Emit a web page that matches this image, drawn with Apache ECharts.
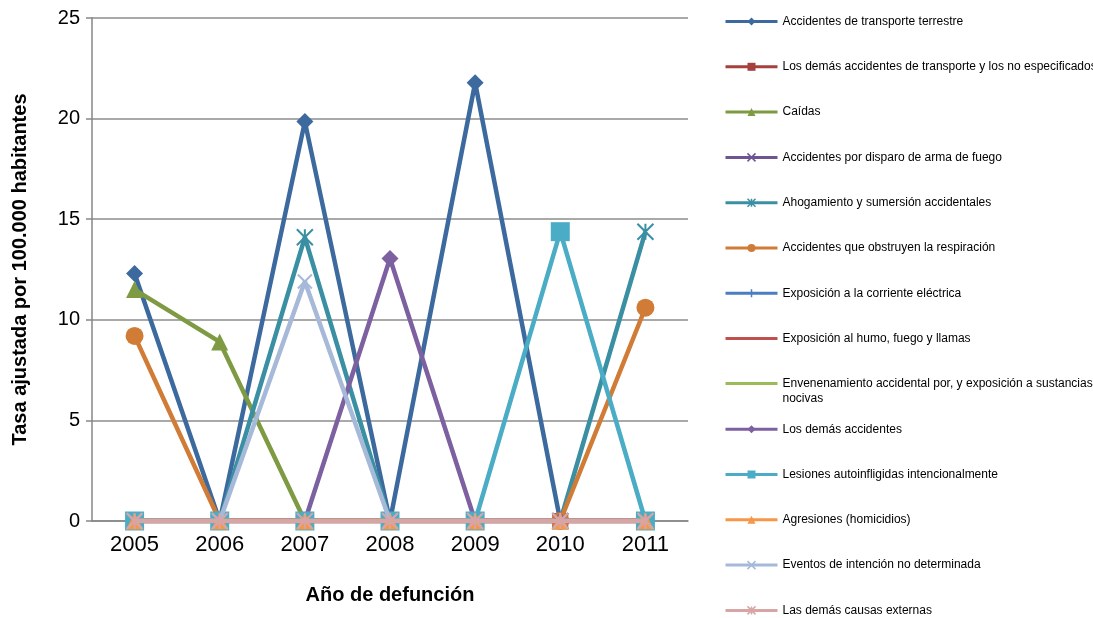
<!DOCTYPE html>
<html>
<head>
<meta charset="utf-8">
<script src="https://cdn.jsdelivr.net/npm/echarts@6/dist/echarts.min.js"></script>
<style>
  html, body { margin: 0; padding: 0; background: #fff; }
  #chart { width: 1093px; height: 618px; }
</style>
</head>
<body>
<div id="chart"></div>
<script>
// Años de defunción (eje de categorías)
const years = ['2005', '2006', '2007', '2008', '2009', '2010', '2011'];

// Tasa ajustada por 100.000 habitantes, por causa externa
const transporteTerrestre   = [12.3, 0, 19.85, 0, 21.78, 0, 0];
const demasTransporte       = [0, 0, 0, 0, 0, 0, 0];
const caidas                = [11.5, 8.9, 0, 0, 0, 0, 0];
const disparoArma           = [0, 0, 0, 0, 0, 0, 0];
const ahogamiento           = [0, 0, 14.1, 0, 0, 0, 14.38];
const obstruyenRespiracion  = [9.2, 0, 0, 0, 0, 0, 10.6];
const corrienteElectrica    = [0, 0, 0, 0, 0, 0, 0];
const humoFuego             = [0, 0, 0, 0, 0, 0, 0];
const envenenamiento        = [0, 0, 0, 0, 0, 0, 0];
const demasAccidentes       = [0, 0, 0, 13.05, 0, 0, 0];
const autoinfligidas        = [0, 0, 0, 0, 0, 14.38, 0];
const agresiones            = [0, 0, 0, 0, 0, 0, 0];
const intencionNoDet        = [0, 0, 11.9, 0, 0, 0, 0];
const demasCausas           = [0, 0, 0, 0, 0, 0, 0];

const seriesNames = [
  'Accidentes de transporte terrestre',
  'Los demás accidentes de transporte y los no especificados',
  'Caídas',
  'Accidentes por disparo de arma de fuego',
  'Ahogamiento y sumersión accidentales',
  'Accidentes que obstruyen la respiración',
  'Exposición a la corriente eléctrica',
  'Exposición al humo, fuego y llamas',
  'Envenenamiento accidental por, y exposición a sustancias nocivas',
  'Los demás accidentes',
  'Lesiones autoinfligidas intencionalmente',
  'Agresiones (homicidios)',
  'Eventos de intención no determinada',
  'Las demás causas externas'
];
const seriesValues = [
  transporteTerrestre, demasTransporte, caidas, disparoArma, ahogamiento,
  obstruyenRespiracion, corrienteElectrica, humoFuego, envenenamiento,
  demasAccidentes, autoinfligidas, agresiones, intencionNoDet, demasCausas
];

const colors = [
  '#3D6A9E', '#A5403D', '#7E9A43', '#6E5490', '#3A8FA3', '#D07B36',
  '#4A7EC0', '#C0504D', '#9BBB59', '#7D60A0', '#4BACC6', '#F79646',
  '#A7B9D8', '#D8A5A4'
];

// Marker shapes
const crossPath = 'path://M0,0 L10,10 M10,0 L0,10';
const starPath = 'path://M0,0 L10,10 M10,0 L0,10 M5,0 L5,10';
const plusPath = 'path://M5,0 L5,10 M0,5 L10,5';
const markers = [
  { symbol: 'diamond', size: 17, stroke: false },
  { symbol: 'rect', size: 16, stroke: false },
  { symbol: 'triangle', size: 17, stroke: false },
  { symbol: crossPath, size: 14, stroke: true },
  { symbol: starPath, size: 16, stroke: true },
  { symbol: 'circle', size: 18, stroke: false },
  { symbol: plusPath, size: 14, stroke: true },
  { symbol: 'none', size: 0, stroke: false },
  { symbol: 'none', size: 0, stroke: false },
  { symbol: 'diamond', size: 17, stroke: false },
  { symbol: 'rect', size: 19, stroke: false },
  { symbol: 'triangle', size: 17, stroke: false },
  { symbol: crossPath, size: 14, stroke: true },
  { symbol: starPath, size: 16, stroke: true }
];

const series = seriesNames.map((name, i) => ({
  name: name,
  type: 'line',
  data: seriesValues[i],
  symbol: markers[i].symbol,
  symbolSize: markers[i].size,
  showSymbol: markers[i].symbol !== 'none',
  lineStyle: { width: 4.5, color: colors[i] },
  itemStyle: markers[i].stroke
    ? { color: colors[i], borderColor: colors[i], borderWidth: 2 }
    : { color: colors[i] },
  emphasis: { disabled: true },
  animation: false,
  z: 2 + i
}));

// One legend block per series so each entry sits on its own row.
// The long "Envenenamiento…" entry wraps before "nocivas"; a leading empty
// line keeps the icon (centred on the text block) level with the first line.
const legendTop = 21;
const legendStep = 45.3;
const legends = seriesNames.map((name, i) => {
  let itemStyle = {};
  if (markers[i].stroke) itemStyle = { borderWidth: 1.5 };
  if (markers[i].symbol === 'none') itemStyle = { opacity: 0 };
  const wraps = name.indexOf(' nocivas') > 0;
  const iconY = legendTop + legendStep * i;
  return {
    data: [name],
    orient: 'vertical',
    left: 724,
    top: wraps ? iconY - 22.5 : iconY - 8,
    itemWidth: 52,
    itemHeight: 10,
    itemGap: 4,
    selectedMode: false,
    padding: 0,
    formatter: wraps ? (n) => ' \n' + n.replace(' nocivas', '\nnocivas') : '{name}',
    textStyle: {
      fontFamily: 'Liberation Sans',
      fontSize: 12,
      color: '#000',
      lineHeight: 15,
      padding: wraps ? [0, 0, 0, 0] : [2, 0, 0, 0]
    },
    itemStyle: itemStyle,
    lineStyle: { width: 3 }
  };
});

const chart = echarts.init(document.getElementById('chart'), null, { renderer: 'canvas' });
chart.setOption({
  backgroundColor: '#ffffff',
  animation: false,
  color: colors,
  legend: legends,
  grid: { left: 92, right: 405, top: 18, bottom: 97, containLabel: false },
  xAxis: {
    type: 'category',
    data: years,
    boundaryGap: true,
    name: 'Año de defunción',
    nameLocation: 'middle',
    nameGap: 64,
    nameTextStyle: { fontFamily: 'Liberation Sans', fontSize: 20, fontWeight: 'bold', color: '#000' },
    axisLine: { show: true, lineStyle: { color: '#868686', width: 1.5 } },
    axisTick: { show: false },
    axisLabel: { fontFamily: 'Liberation Sans', fontSize: 22, color: '#000', margin: 13 },
    z: 1
  },
  yAxis: {
    type: 'value',
    min: 0,
    max: 25,
    interval: 5,
    name: 'Tasa ajustada por 100.000 habitantes',
    nameLocation: 'middle',
    nameGap: 62,
    nameTextStyle: { fontFamily: 'Liberation Sans', fontSize: 20, fontWeight: 'bold', color: '#000' },
    axisLine: { show: true, lineStyle: { color: '#868686', width: 1.5 } },
    axisTick: { show: true, length: 6, lineStyle: { color: '#868686', width: 1.5 } },
    splitLine: { show: true, lineStyle: { color: '#8C8C8C', width: 1.5 } },
    axisLabel: { fontFamily: 'Liberation Sans', fontSize: 20, color: '#000', margin: 12 }
  },
  series: series
});
</script>
</body>
</html>
